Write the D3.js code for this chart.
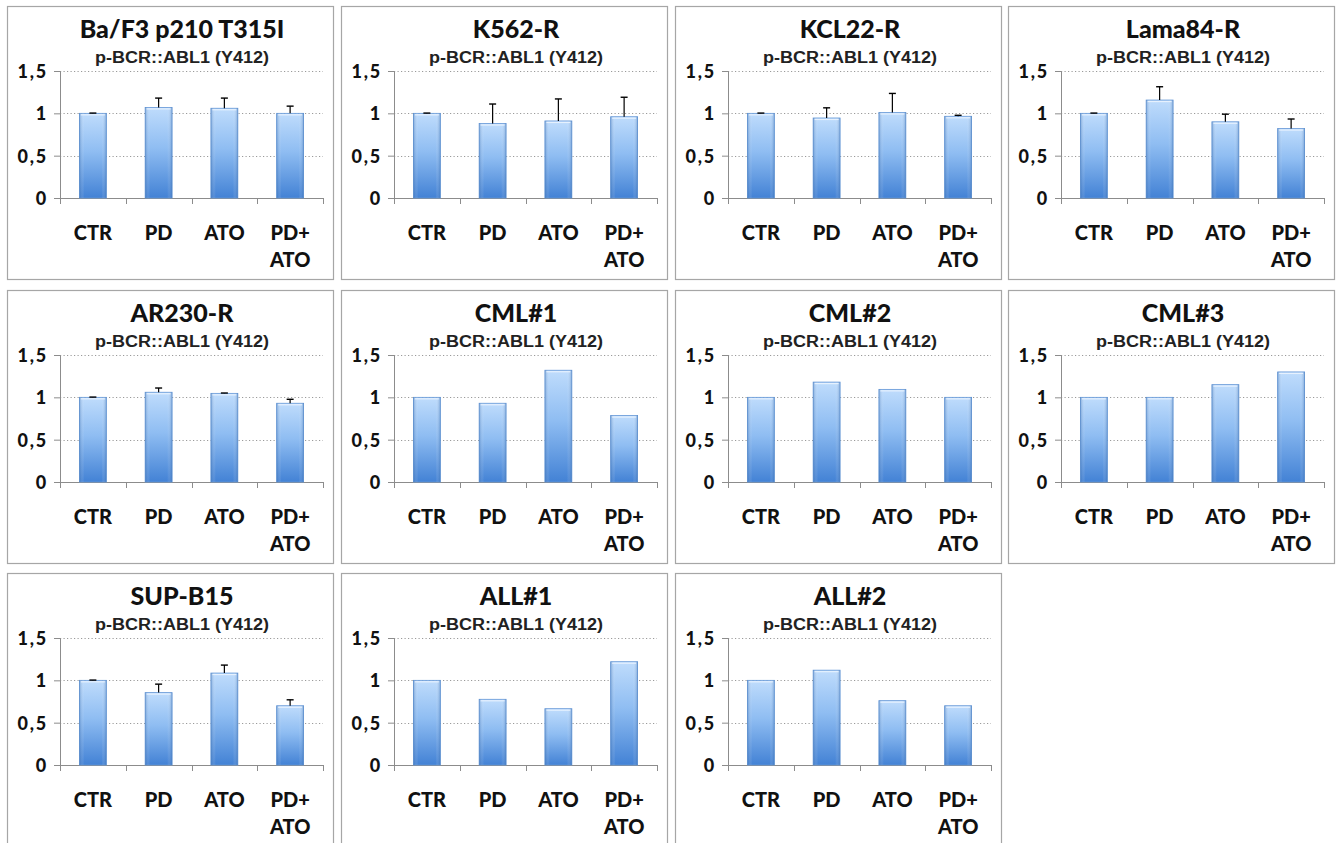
<!DOCTYPE html>
<html>
<head>
<meta charset="utf-8">
<script src="https://cdn.jsdelivr.net/npm/d3@7"></script>
<style>
  body { margin: 0; background: #fff; }
  svg { display: block; }
</style>
</head>
<body>
<div id="chart"></div>
<script>
const titles = ['Ba/F3 p210 T315I', 'K562-R', 'KCL22-R', 'Lama84-R',
    'AR230-R', 'CML#1', 'CML#2', 'CML#3',
    'SUP-B15', 'ALL#1', 'ALL#2']
const subtitle = 'p-BCR::ABL1 (Y412)'
const categories = ['CTR', 'PD', 'ATO', 'PD+ ATO']
const yTicks = [0, 0.5, 1, 1.5]
const yTickLabels = ['0', '0,5', '1', '1,5']

// mean per treatment, one row per panel
const values = [
    [1, 1.07, 1.06, 1.0],
    [1, 0.88, 0.91, 0.96],
    [1, 0.945, 1.01, 0.965],
    [1, 1.157, 0.90, 0.82],
    [1, 1.06, 1.047, 0.93],
    [1, 0.93, 1.32, 0.785],
    [1, 1.18, 1.094, 1.0],
    [1, 1.0, 1.15, 1.30],
    [1, 0.855, 1.086, 0.70],
    [1, 0.776, 0.665, 1.22],
    [1, 1.12, 0.76, 0.70]
]
// upper error (SD), null where the panel has none
const errors = [
    [0.003, 0.11, 0.12, 0.085],
    [0.003, 0.23, 0.26, 0.23],
    [0.003, 0.12, 0.225, 0.012],
    [0.003, 0.157, 0.09, 0.113],
    [0.003, 0.05, 0.004, 0.047],
    null, null, null,
    [0.003, 0.10, 0.094, 0.07],
    null, null
]

const width = 1340
const height = 843
const panelW = 326
const panelH = 273
const colX = [7, 341, 675, 1008]
const rowY = [6, 290, 573]
const plot = { left: 53, right: 316, top: 65, bottom: 192 }

const svg = d3.select('#chart')
    .append('svg')
    .attr('width', width)
    .attr('height', height)

const defs = svg.append('defs')
const grad = defs.append('linearGradient')
    .attr('id', 'barGrad')
    .attr('x1', 0).attr('y1', 0).attr('x2', 0).attr('y2', 1)
grad.append('stop').attr('offset', '0%').attr('stop-color', '#bfdcfc')
grad.append('stop').attr('offset', '45%').attr('stop-color', '#8fbdf2')
grad.append('stop').attr('offset', '100%').attr('stop-color', '#4382d5')

const side = defs.append('linearGradient')
    .attr('id', 'barSide')
    .attr('x1', 0).attr('y1', 0).attr('x2', 1).attr('y2', 0)
side.append('stop').attr('offset', '0%').attr('stop-color', '#2f64a8').attr('stop-opacity', 0.4)
side.append('stop').attr('offset', '18%').attr('stop-color', '#ffffff').attr('stop-opacity', 0)
side.append('stop').attr('offset', '82%').attr('stop-color', '#ffffff').attr('stop-opacity', 0)
side.append('stop').attr('offset', '100%').attr('stop-color', '#2f64a8').attr('stop-opacity', 0.4)

const x = d3.scaleBand()
    .domain(categories)
    .range([plot.left, plot.right])
    .padding(0)

const y = d3.scaleLinear()
    .domain([0, 1.5])
    .range([plot.bottom, plot.top])

const barW = x.bandwidth() * 0.41

titles.forEach((title, i) => {
    const col = i % 4
    const row = Math.floor(i / 4)
    const g = svg.append('g')
        .attr('transform', `translate(${colX[col]},${rowY[row]})`)

    g.append('rect')
        .attr('x', 0.5).attr('y', 0.5)
        .attr('width', panelW).attr('height', panelH)
        .attr('fill', '#fff')
        .attr('stroke', '#a6a6a6')
        .attr('stroke-width', 1.2)

    g.append('text')
        .attr('x', panelW / 2 + 12)
        .attr('y', 32)
        .attr('text-anchor', 'middle')
        .style('font-family', 'Lato, sans-serif')
        .style('font-weight', '900')
        .style('font-size', '25px')
        .style('fill', '#111')
        .text(title)

    g.append('text')
        .attr('x', panelW / 2 + 12)
        .attr('y', 57)
        .attr('text-anchor', 'middle')
        .attr('textLength', 174)
        .attr('lengthAdjust', 'spacingAndGlyphs')
        .style('font-family', '"Liberation Sans", Arial, sans-serif')
        .style('font-weight', 'bold')
        .style('font-size', '16px')
        .style('fill', '#222')
        .text(subtitle)

    // gridlines
    g.append('g')
        .selectAll('line')
        .data(yTicks.filter(t => t > 0))
        .enter()
        .append('line')
        .attr('x1', plot.left).attr('x2', plot.right)
        .attr('y1', d => Math.round(y(d)) + 0.5)
        .attr('y2', d => Math.round(y(d)) + 0.5)
        .attr('stroke', '#9a9a9a')
        .attr('stroke-dasharray', '1.2,2.3')

    // y axis
    const yAxis = g.append('g')
        .attr('transform', `translate(${plot.left},0)`)
        .call(d3.axisLeft(y)
            .tickValues(yTicks)
            .tickSize(6)
            .tickPadding(6)
            .tickFormat((d, k) => yTickLabels[k]))
    yAxis.attr('font-size', null).attr('font-family', null)
    yAxis.select('.domain').attr('stroke', '#8c8c8c')
    yAxis.selectAll('.tick line').attr('stroke', '#8c8c8c')
    yAxis.selectAll('.tick text')
        .attr('font-family', 'Lato, sans-serif')
        .attr('font-weight', '900')
        .attr('font-size', 18)
        .attr('letter-spacing', 1.8)
        .attr('fill', '#111')
        .attr('dy', '0.36em')

    // x axis
    const xAxis = g.append('g')
        .attr('transform', `translate(0,${plot.bottom})`)
    xAxis.append('line')
        .attr('x1', plot.left).attr('x2', plot.right)
        .attr('y1', 0.5).attr('y2', 0.5)
        .attr('stroke', '#8c8c8c')
    xAxis.selectAll('.xtick')
        .data(categories.concat(['end']))
        .enter()
        .append('line')
        .attr('class', 'xtick')
        .attr('x1', (d, k) => Math.round(plot.left + k * x.step()) + 0.5)
        .attr('x2', (d, k) => Math.round(plot.left + k * x.step()) + 0.5)
        .attr('y1', 0).attr('y2', 6)
        .attr('stroke', '#8c8c8c')

    const labels = xAxis.selectAll('.xlabel')
        .data(categories)
        .enter()
        .append('text')
        .attr('class', 'xlabel')
        .attr('text-anchor', 'middle')
        .style('font-family', 'Lato, sans-serif')
        .style('font-weight', '900')
        .style('font-size', '20px')
        .style('fill', '#111')
    labels.selectAll('tspan')
        .data(d => d.split(' ').map(s => ({ cat: d, text: s })))
        .enter()
        .append('tspan')
        .attr('x', d => x(d.cat) + x.bandwidth() / 2)
        .attr('y', (d, k) => 42 + k * 27)
        .text(d => d.text)

    // bars
    const bars = g.append('g')
        .selectAll('g')
        .data(values[i].map((v, k) => ({ cat: categories[k], v: v, e: errors[i] ? errors[i][k] : null })))
        .enter()
        .append('g')

    bars.append('rect')
        .attr('x', d => x(d.cat) + (x.bandwidth() - barW) / 2)
        .attr('y', d => y(d.v))
        .attr('width', barW)
        .attr('height', d => y(0) - y(d.v))
        .attr('fill', 'url(#barGrad)')
        .attr('stroke', '#6396d6')
        .attr('stroke-width', 0.8)
    bars.append('rect')
        .attr('x', d => x(d.cat) + (x.bandwidth() - barW) / 2)
        .attr('y', d => y(d.v))
        .attr('width', barW)
        .attr('height', d => y(0) - y(d.v))
        .attr('fill', 'url(#barSide)')
    bars.append('line')
        .attr('x1', d => x(d.cat) + (x.bandwidth() - barW) / 2 + 1.5)
        .attr('x2', d => x(d.cat) + (x.bandwidth() + barW) / 2 - 1.5)
        .attr('y1', d => y(d.v) + 1.5)
        .attr('y2', d => y(d.v) + 1.5)
        .attr('stroke', '#e6f1fe')
        .attr('stroke-width', 1.2)

    // error bars (upper only)
    const err = bars.filter(d => d.e !== null)
    err.append('line')
        .attr('x1', d => x(d.cat) + x.bandwidth() / 2)
        .attr('x2', d => x(d.cat) + x.bandwidth() / 2)
        .attr('y1', d => y(d.v))
        .attr('y2', d => y(d.v + d.e))
        .attr('stroke', '#000')
        .attr('stroke-width', 1.2)
    err.append('line')
        .attr('x1', d => x(d.cat) + x.bandwidth() / 2 - 3.5)
        .attr('x2', d => x(d.cat) + x.bandwidth() / 2 + 3.5)
        .attr('y1', d => y(d.v + d.e))
        .attr('y2', d => y(d.v + d.e))
        .attr('stroke', '#000')
        .attr('stroke-width', 1.4)
})
</script>
</body>
</html>
